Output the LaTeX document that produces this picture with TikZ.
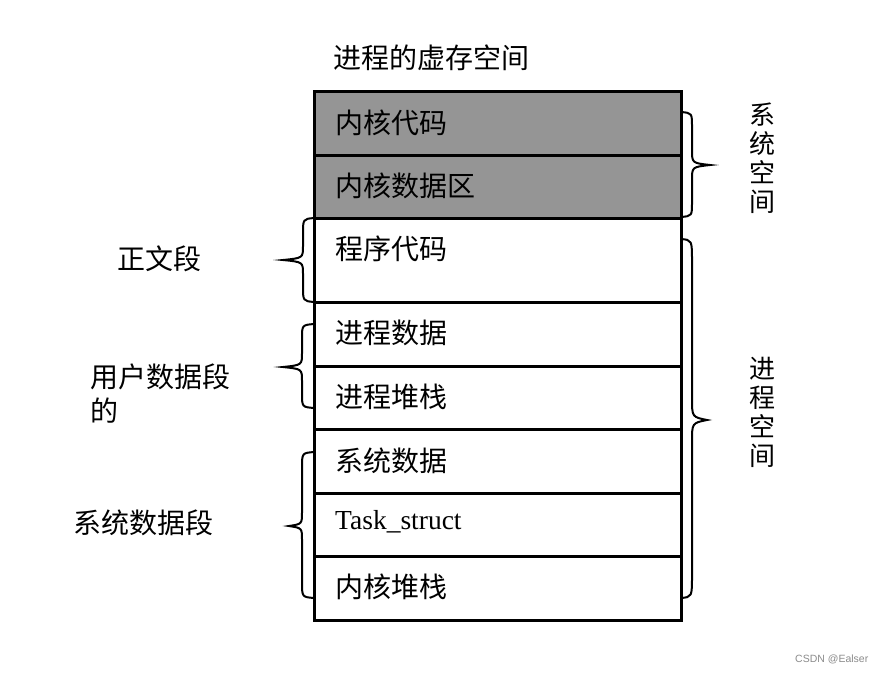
\documentclass[tikz,border=0pt]{standalone}
\usepackage{fontspec}
\setmainfont{Liberation Serif}
\newfontfamily\cjk{Noto Sans CJK SC}
\newfontfamily\wm{Liberation Sans}
\definecolor{kgray}{RGB}{149,149,149}
\begin{document}
\begin{tikzpicture}[x=1pt,y=-1pt,
  cell/.style={draw=black,line width=3pt},
  kcell/.style={cell,fill=kgray},
  ctext/.style={anchor=west,inner sep=0pt,font=\cjk\fontsize{28}{29}\selectfont},
  ltext/.style={anchor=west,inner sep=0pt,font=\fontsize{27.5}{29}\selectfont},
  vlabel/.style={align=center,inner sep=0pt,font=\cjk\fontsize{26}{29}\selectfont},
  brc/.style={line width=2pt}]
\useasboundingbox (0,0) rectangle (885,673);
\fill[white] (0,0) rectangle (885,673);
% rows
\draw[kcell] (314,91) rectangle (681,155);
\draw[kcell] (314,155) rectangle (681,218);
\draw[cell] (314,218) rectangle (681,302);
\draw[cell] (314,302) rectangle (681,366);
\draw[cell] (314,366) rectangle (681,429);
\draw[cell] (314,429) rectangle (681,493);
\draw[cell] (314,493) rectangle (681,556);
\draw[cell] (314,556) rectangle (681,620);
% texts
\node[ctext] (title) at (333,58) {进程的虚存空间};
\node[ctext] (r1) at (335,123) {内核代码};
\node[ctext] (r2) at (335,186) {内核数据区};
\node[ctext] (r3) at (335,249) {程序代码};
\node[ctext] (r4) at (335,333) {进程数据};
\node[ctext] (r5) at (335,397) {进程堆栈};
\node[ctext] (r6) at (335,461) {系统数据};
\node[ltext] (r7) at (335,522) {Task\_struct};
\node[ctext] (r8) at (335,587) {内核堆栈};
% left labels
\node[ctext] (l1) at (117,259) {正文段};
\node[ctext,align=left,font=\cjk\fontsize{28}{34}\selectfont] (l2) at (90,394) {用户数据段\\的};
\node[ctext] (l3) at (73,523) {系统数据段};
% right labels
\node[vlabel] (rs1) at (762,158) {系\\统\\空\\间};
\node[vlabel] (rs2) at (762,412) {进\\程\\空\\间};
% left braces
\draw[brc] (314,218) .. controls (303,219) .. (303,234) -- (303,246) .. controls (303,258) .. (283,260) .. controls (303,262) .. (303,274) -- (303,286) .. controls (303,301) .. (314,302);
\draw[brc] (314,324) .. controls (302,325) .. (302,339) -- (302,353) .. controls (302,365) .. (283,367) .. controls (302,369) .. (302,381) -- (302,393) .. controls (302,407) .. (314,408);
\draw[brc] (314,452) .. controls (302,453) .. (302,468) -- (302,512) .. controls (302,524) .. (289,526) .. controls (302,528) .. (302,540) -- (302,582) .. controls (302,597) .. (314,598);
% right braces
\draw[brc] (681,112) .. controls (692,113) .. (692,127) -- (692,150) .. controls (692,163) .. (710,165) .. controls (692,167) .. (692,180) -- (692,202) .. controls (692,216) .. (681,217);
\draw[brc] (681,239) .. controls (692,240) .. (692,262) -- (692,398) .. controls (692,417) .. (707,420) .. controls (692,423) .. (692,442) -- (692,575) .. controls (692,597) .. (681,598);
% watermark
\node[anchor=west,inner sep=0pt,text=black!45,font=\wm\fontsize{10.5}{12}\selectfont] (wm) at (795,659) {CSDN @Ealser};
\end{tikzpicture}
\end{document}
